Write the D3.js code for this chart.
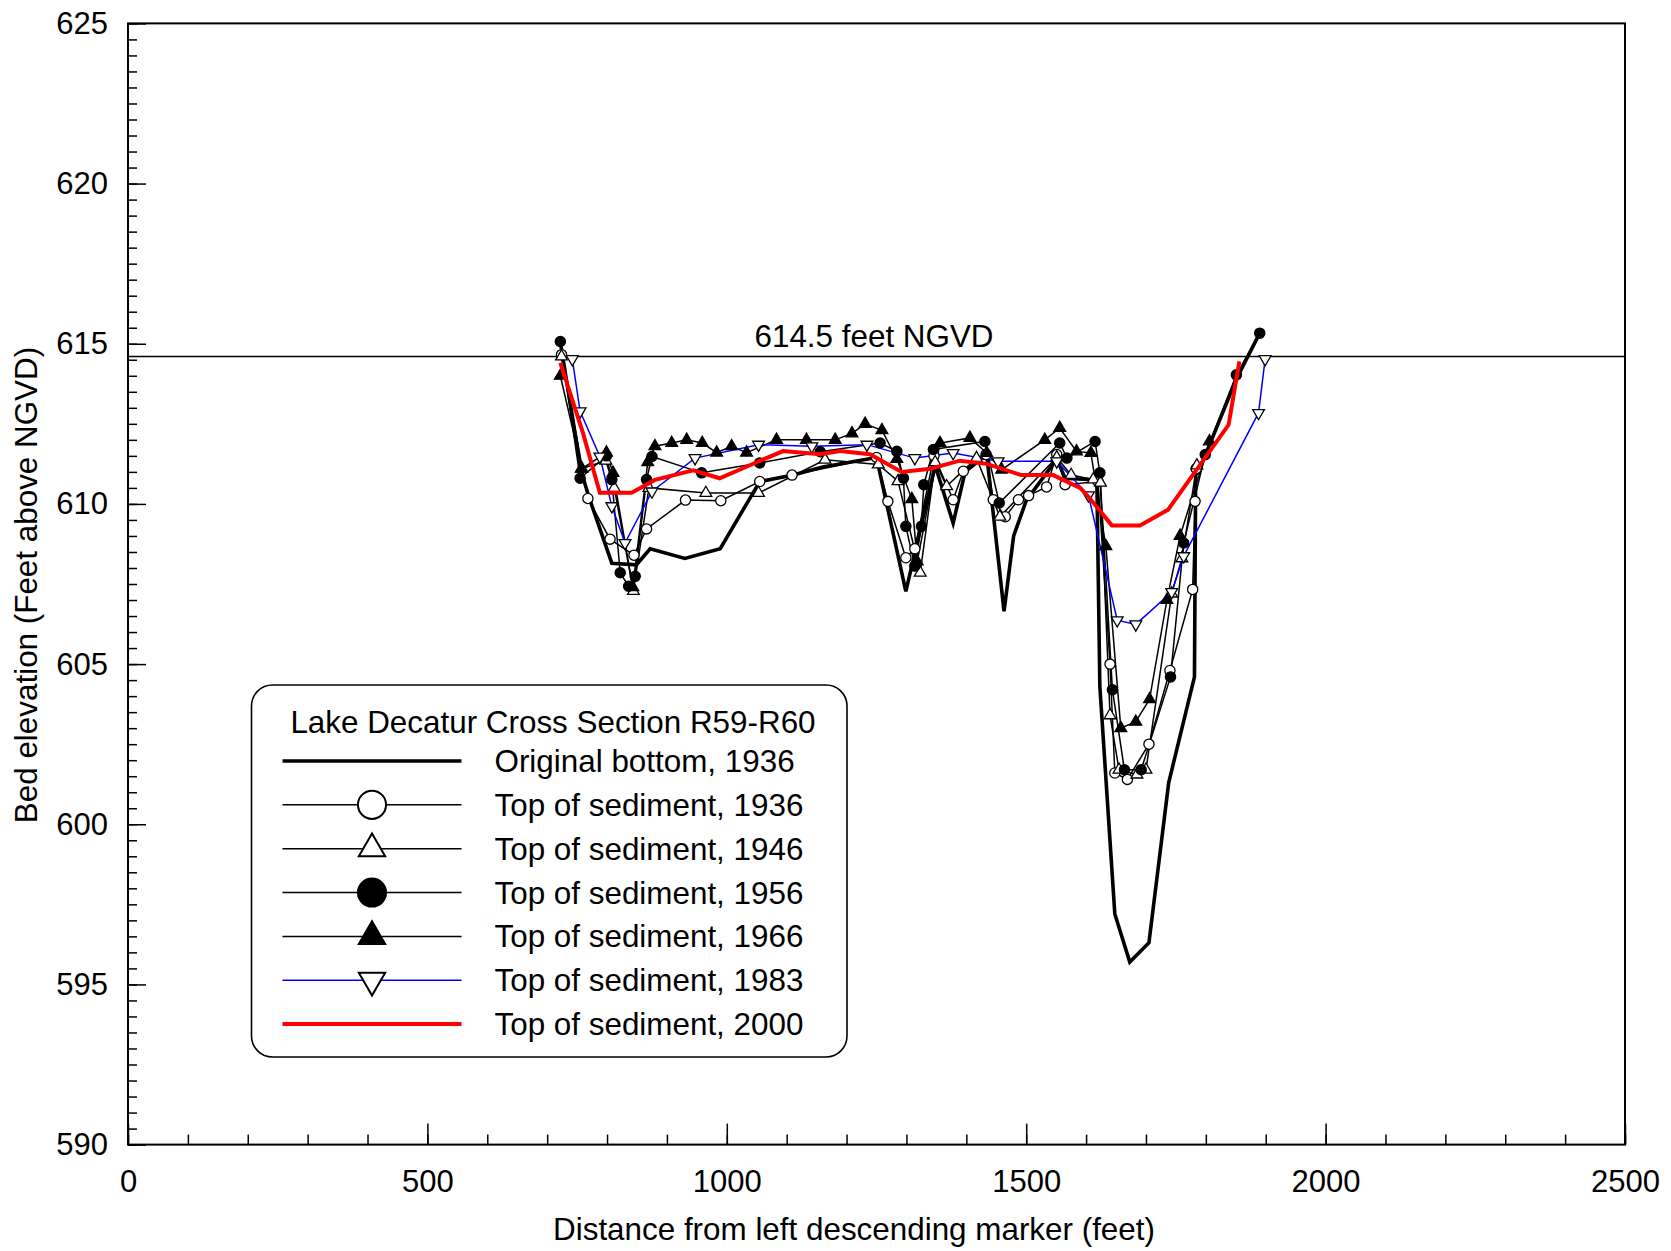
<!DOCTYPE html>
<html>
<head>
<meta charset="utf-8">
<script src="https://cdn.jsdelivr.net/npm/d3@7"></script>
<style>
  body { margin: 0; background: #fff; }
  text { font-family: "Liberation Sans", Arial, sans-serif; fill: #000; }
</style>
</head>
<body>
<svg id="chart"></svg>
<script>
// distance (feet) , bed elevation (feet NGVD)
const originalBottom1936 = [[722,615.05],[757,611.0],[770,610.2],[808,608.15],[849,608.1],[872,608.6],[930,608.3],[989,608.6],[1055,610.7],[1111,610.9],[1160,611.15],[1250,611.45],[1299,607.27],[1348,611.2],[1378,609.4],[1398,611.0],[1434,611.55],[1463,606.65],[1479,609.0],[1500,610.1],[1551,611.4],[1565,610.8],[1618,610.75],[1623,604.3],[1648,597.2],[1673,595.7],[1705,596.3],[1738,601.3],[1781,604.6],[1783,610.9],[1790,611.1],[1851,613.9],[1890,615.33]]
const sediment1936 = [[724,614.66],[768,610.17],[805,608.9],[845,608.4],[866,609.22],[931,610.12],[990,610.1],[1055,610.7],[1109,610.9],[1250,611.45],[1269,610.08],[1299,608.32],[1314,608.6],[1346,611.5],[1378,610.13],[1395,611.02],[1433,611.54],[1445,610.13],[1465,609.6],[1487,610.13],[1504,610.26],[1534,610.53],[1551,611.54],[1565,610.6],[1620,610.7],[1640,605.0],[1648,601.6],[1669,601.4],[1705,602.5],[1740,604.8],[1778,607.33],[1782,610.08],[1784,611.1]]
const sediment1946 = [[724,614.6],[757,611.1],[798,611.35],[812,610.5],[844,607.28],[870,610.5],[965,610.34],[1053,610.34],[1164,611.38],[1253,611.23],[1286,610.71],[1323,607.85],[1348,611.3],[1367,610.55],[1417,611.43],[1456,609.6],[1551,611.45],[1575,610.9],[1612,610.76],[1624,610.66],[1640,603.4],[1655,601.7],[1685,601.55],[1700,601.7],[1743,607.2],[1760,608.3],[1785,611.2]]
const sediment1956 = [[722,615.07],[755,610.8],[799,611.5],[808,610.76],[822,607.85],[836,607.43],[847,607.74],[866,610.76],[875,611.48],[958,610.97],[1055,611.28],[1156,611.63],[1256,611.9],[1284,611.64],[1295,610.8],[1299,609.3],[1314,608.06],[1325,609.3],[1329,610.6],[1345,611.7],[1431,611.95],[1455,610.03],[1556,611.9],[1568,611.43],[1615,611.95],[1623,610.97],[1644,604.2],[1664,601.7],[1692,601.7],[1741,604.6],[1763,608.78],[1799,611.54],[1851,614.03],[1890,615.33]]
const sediment1966 = [[722,614.0],[758,611.1],[799,611.6],[810,610.97],[843,607.4],[868,611.3],[880,611.8],[908,611.9],[933,612.0],[959,611.9],[983,611.6],[1008,611.8],[1033,611.6],[1083,612.0],[1133,612.0],[1181,612.0],[1209,612.2],[1231,612.5],[1259,612.3],[1284,611.4],[1309,610.15],[1318,608.2],[1356,611.9],[1406,612.06],[1434,611.59],[1459,611.07],[1531,612.0],[1556,612.37],[1584,611.64],[1608,611.59],[1633,608.68],[1658,603.0],[1683,603.2],[1706,603.9],[1735,607.0],[1757,609.0],[1806,611.95]]
const sediment1983 = [[742,614.52],[755,612.89],[788,611.48],[808,609.93],[830,608.78],[875,610.39],[947,611.43],[1053,611.85],[1142,611.8],[1234,611.85],[1314,611.43],[1378,611.59],[1453,611.33],[1551,611.33],[1604,610.27],[1652,606.37],[1683,606.24],[1743,607.25],[1763,608.37],[1888,612.84],[1899,614.52]]
const sediment2000 = [[722,614.4],[760,612.2],[788,610.35],[841,610.35],[880,610.75],[944,611.05],[988,610.8],[1050,611.3],[1094,611.65],[1156,611.55],[1189,611.65],[1239,611.55],[1292,611.0],[1340,611.1],[1389,611.35],[1434,611.25],[1492,610.9],[1545,610.9],[1590,610.5],[1605,610.2],[1643,609.33],[1690,609.33],[1737,609.82],[1838,612.47],[1856,614.45]]

const seriesNames = ["Original bottom, 1936", "Top of sediment, 1936", "Top of sediment, 1946", "Top of sediment, 1956", "Top of sediment, 1966", "Top of sediment, 1983", "Top of sediment, 2000"]
const legendTitle = "Lake Decatur Cross Section R59-R60"
const xTicksMajor = [0, 500, 1000, 1500, 2000, 2500]
const yTicksMajor = [590, 595, 600, 605, 610, 615, 620, 625]
const poolLevel = 614.6
const poolLabel = "614.5 feet NGVD"
const xTitle = "Distance from left descending marker (feet)"
const yTitle = "Bed elevation (Feet above NGVD)"

const W = 1671, H = 1251
const margin = {left: 128, right: 46, top: 23.4, bottom: 106.4}
const fs = 31.4

const svg = d3.select("#chart").attr("width", W).attr("height", H)

const x = d3.scaleLinear().domain([0, 2500]).range([margin.left, W - margin.right])
const y = d3.scaleLinear().domain([590, 625]).range([H - margin.bottom, margin.top])

// minor ticks
svg.append("g")
    .attr("transform", `translate(0,${y(590)})`)
    .call(d3.axisBottom(x).tickValues(d3.range(0, 2501, 100)).tickSize(-10).tickFormat(""))
svg.append("g")
    .attr("transform", `translate(${x(0)},0)`)
    .call(d3.axisLeft(y).tickValues(d3.range(590, 625.01, 0.5)).tickSize(-9).tickFormat(""))

// major ticks + labels
svg.append("g")
    .attr("transform", `translate(0,${y(590)})`)
    .call(d3.axisBottom(x).tickValues(xTicksMajor).tickSize(-21).tickPadding(25).tickFormat(d3.format("d")))
svg.append("g")
    .attr("transform", `translate(${x(0)},0)`)
    .call(d3.axisLeft(y).tickValues(yTicksMajor).tickSize(-18).tickPadding(20).tickFormat(d3.format("d")))

svg.selectAll(".domain").remove()
svg.selectAll(".tick line").attr("stroke", "#000").attr("stroke-width", 1.5)
svg.selectAll(".tick text").attr("font-size", 31).attr("font-family", "Liberation Sans, Arial, sans-serif")

// frame
svg.append("rect")
    .attr("x", x(0)).attr("y", y(625))
    .attr("width", x(2500) - x(0)).attr("height", y(590) - y(625))
    .attr("fill", "none").attr("stroke", "#000").attr("stroke-width", 2)

// axis titles
svg.append("text")
    .attr("x", 854).attr("y", 1240)
    .attr("text-anchor", "middle").attr("font-size", fs)
    .text(xTitle)
svg.append("text")
    .attr("transform", `translate(37,${(y(590) + y(625)) / 2 + 1}) rotate(-90)`)
    .attr("text-anchor", "middle").attr("font-size", fs)
    .text(yTitle)

// normal pool line
svg.append("line")
    .attr("x1", x(0)).attr("x2", x(2500))
    .attr("y1", y(poolLevel)).attr("y2", y(poolLevel))
    .attr("stroke", "#000").attr("stroke-width", 1.6)
svg.append("text")
    .attr("x", 874).attr("y", y(poolLevel) - 10)
    .attr("text-anchor", "middle").attr("font-size", fs)
    .text(poolLabel)

// same order as seriesNames
const series = [
    {data: originalBottom1936, color: "#000", width: 3.6, marker: null},
    {data: sediment1936, color: "#000", width: 1.5, marker: "circleOpen"},
    {data: sediment1946, color: "#000", width: 1.5, marker: "triUpOpen"},
    {data: sediment1956, color: "#000", width: 1.5, marker: "circleFilled"},
    {data: sediment1966, color: "#000", width: 1.5, marker: "triUpFilled"},
    {data: sediment1983, color: "#0000ff", width: 1.5, marker: "triDownOpen"},
    {data: sediment2000, color: "#ff0000", width: 4, marker: null}
]
const drawOrder = [1, 2, 3, 4, 0, 5]

const line = d3.line()
    .x((d) => x(d[0]))
    .y((d) => y(d[1]))

var addMarker = function (g, kind, big) {
    let open = kind.indexOf("Open") > -1
    let sym
    if (kind.indexOf("circle") == 0) {
        sym = d3.symbol().type(d3.symbolCircle).size(big ? 620 : 82)
    } else {
        sym = d3.symbol().type(d3.symbolTriangle).size(big ? 300 : 60)
    }
    let p = g.append("path")
        .attr("d", sym())
        .attr("fill", open ? "#fff" : "#000")
        .attr("stroke", "#000")
        .attr("stroke-width", big ? 2 : 1.3)
    if (kind == "triDownOpen") p.attr("transform", "rotate(180)")
    return p
}

const plot = svg.append("g")

drawOrder.forEach((i) => {
    let s = series[i]
    plot.append("path").datum(s.data)
        .attr("d", line)
        .attr("fill", "none")
        .attr("stroke", s.color)
        .attr("stroke-width", s.width)
})

drawOrder.filter((i) => series[i].marker).forEach((i) => {
    let s = series[i]
    s.data.forEach((d) => {
        let g = plot.append("g").attr("transform", `translate(${x(d[0])},${y(d[1])})`)
        addMarker(g, s.marker, false)
    })
})

// red line on top
plot.append("path").datum(series[6].data)
    .attr("d", line)
    .attr("fill", "none")
    .attr("stroke", series[6].color)
    .attr("stroke-width", series[6].width)

// legend
const legend = svg.append("g")
legend.append("rect")
    .attr("x", 251.5).attr("y", 685)
    .attr("width", 595.5).attr("height", 372)
    .attr("rx", 21).attr("ry", 21)
    .attr("fill", "#fff").attr("stroke", "#000").attr("stroke-width", 1.6)
legend.append("text")
    .attr("x", 553).attr("y", 732.5)
    .attr("text-anchor", "middle").attr("font-size", fs)
    .text(legendTitle)

series.forEach((s, i) => {
    let cy = 761 + i * 43.85
    let row = legend.append("g")
    row.append("line")
        .attr("x1", 282.5).attr("x2", 461.5)
        .attr("y1", cy).attr("y2", cy)
        .attr("stroke", s.color)
        .attr("stroke-width", s.width)
    if (s.marker) {
        let g = row.append("g").attr("transform", `translate(372,${cy})`)
        addMarker(g, s.marker, true)
    }
    row.append("text")
        .attr("x", 494.5).attr("y", cy + 11)
        .attr("font-size", fs)
        .text(seriesNames[i])
})
</script>
</body>
</html>
